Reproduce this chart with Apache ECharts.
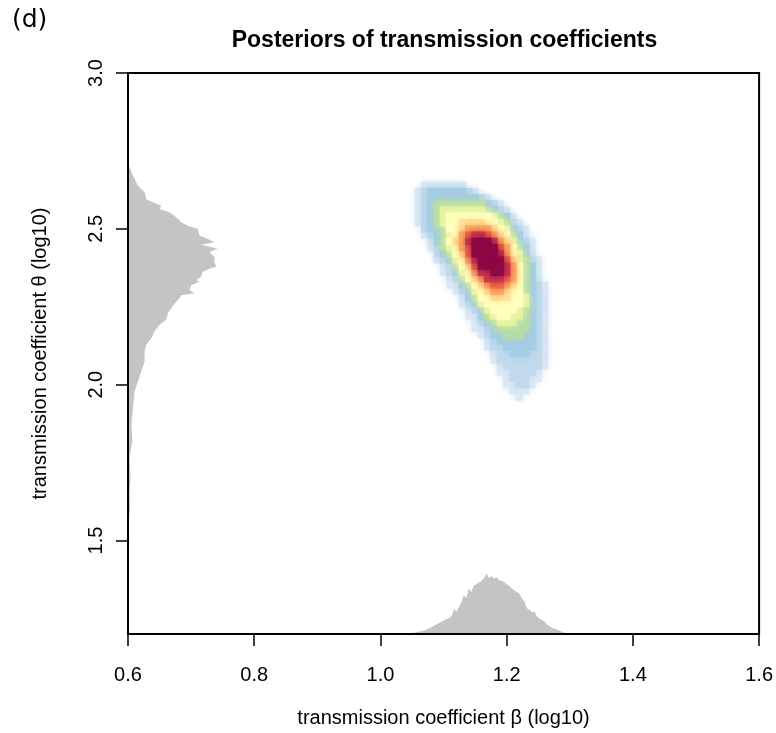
<!DOCTYPE html>
<html><head><meta charset="utf-8">
<script src="https://cdn.jsdelivr.net/npm/echarts@6/dist/echarts.min.js"></script>
<style>html,body{margin:0;padding:0;background:#fff}#c{width:776px;height:733px}</style>
</head><body><div id="c"></div>
<script>
// ---- data ----
const xTicks = [0.6, 0.8, 1.0, 1.2, 1.4, 1.6];
const yTicks = [1.5, 2.0, 2.5, 3.0];

// 2D posterior density (levels 0..11, hex chars), columns = beta centers, rows = theta centers
const betaCenters = [1.06,1.07,1.08,1.09,1.10,1.11,1.12,1.13,1.14,1.15,1.16,1.17,1.18,1.19,1.20,1.21,1.22,1.23,1.24,1.25,1.26,1.27,1.28];
const thetaCenters = [2.68,2.66,2.64,2.62,2.60,2.58,2.56,2.54,2.52,2.50,2.48,2.46,2.44,2.42,2.40,2.38,2.36,2.34,2.32,2.30,2.28,2.26,2.24,2.22,2.20,2.18,2.16,2.14,2.12,2.10,2.08,2.06,2.04,2.02,2.00,1.98,1.96];
const densityRows = [
"00000000000000000000000",
"00000000000000000000000",
"01111111000000000000000",
"12333333210000000000000",
"12333333332100000000000",
"12344444444321000000000",
"12345555555432100000000",
"12345666666654310000000",
"12345667777665421000000",
"02334667888876532100000",
"012345689aa987643100000",
"00134678abbba8753210000",
"001245689bbbb9864310000",
"000234679bbbba865310000",
"000123568abbbb975421000",
"0000124679bbbba86431000",
"0000123568aabba86431000",
"00000124678aaa986431000",
"00000113467899876432100",
"00000012356788766432100",
"00000001346677766532100",
"00000001235666666532100",
"00000000123566665432100",
"00000000113456655432100",
"00000000012345554432100",
"00000000011234444432100",
"00000000001233444332100",
"00000000000123333332100",
"00000000000122333332100",
"00000000000012233322100",
"00000000000012222222100",
"00000000000001222222100",
"00000000000001122221000",
"00000000000000122211000",
"00000000000000112210000",
"00000000000000011100000",
"00000000000000001000000"
];

// marginal of beta (bottom)
const betaHistX = [1.000,1.030,1.038,1.046,1.053,1.061,1.069,1.077,1.085,1.093,1.101,1.109,1.113,1.117,1.120,1.125,1.129,1.132,1.136,1.140,1.144,1.148,1.152,1.156,1.160,1.164,1.168,1.172,1.176,1.180,1.184,1.188,1.192,1.196,1.200,1.204,1.208,1.212,1.216,1.220,1.224,1.228,1.232,1.236,1.240,1.244,1.248,1.252,1.256,1.260,1.264,1.268,1.272,1.276,1.282,1.290,1.298,1.306,1.314,1.325,1.400];
const betaHistY = [1.2000,1.2005,1.2012,1.2030,1.2040,1.2075,1.2115,1.2180,1.2265,1.2350,1.2440,1.2510,1.2580,1.2830,1.2700,1.2880,1.3050,1.3250,1.3150,1.3460,1.3350,1.3560,1.3600,1.3650,1.3700,1.3800,1.3940,1.3800,1.3850,1.3780,1.3820,1.3730,1.3700,1.3680,1.3600,1.3550,1.3470,1.3400,1.3350,1.3300,1.3150,1.3050,1.2830,1.2780,1.2700,1.2720,1.2560,1.2500,1.2440,1.2400,1.2300,1.2260,1.2190,1.2170,1.2130,1.2050,1.2025,1.2010,1.2005,1.2002,1.2000];

// marginal of theta (left)
const thetaHistY = [1.45,1.50,1.55,1.60,1.65,1.70,1.767,1.820,1.873,1.926,1.980,2.011,2.043,2.075,2.107,2.128,2.149,2.171,2.192,2.208,2.229,2.245,2.266,2.277,2.287,2.293,2.303,2.319,2.330,2.335,2.346,2.362,2.372,2.378,2.394,2.410,2.426,2.436,2.449,2.457,2.468,2.479,2.500,2.510,2.521,2.537,2.553,2.564,2.574,2.585,2.595,2.617,2.638,2.670,2.702,2.720];
const thetaHistX = [0.6000,0.6020,0.6010,0.6030,0.6025,0.6040,0.6026,0.6068,0.6053,0.6079,0.6105,0.6158,0.6211,0.6263,0.6263,0.6290,0.6369,0.6421,0.6500,0.6606,0.6632,0.6685,0.6764,0.6816,0.6843,0.7053,0.6974,0.7000,0.7132,0.7080,0.7158,0.7185,0.7290,0.7395,0.7369,0.7369,0.7290,0.7422,0.7158,0.7369,0.7264,0.7132,0.7106,0.6948,0.6843,0.6764,0.6658,0.6500,0.6527,0.6395,0.6290,0.6263,0.6158,0.6079,0.6016,0.6000];

// ---- build ----
const FONT = 'Liberation Sans, Arial, Helvetica, sans-serif';
const palette = ['#ffffff','#dce9f5','#c2daee','#a6cde5','#b4dca9','#e3f29f','#ffffbf','#fee39a','#fdb064','#f06c48','#cf3a4e','#8e0a47'];
const cellW = betaCenters[1] - betaCenters[0];
const cellH = thetaCenters[0] - thetaCenters[1];
const heatData = [];
densityRows.forEach((row, j) => {
  for (let i = 0; i < row.length; i++) {
    const lv = parseInt(row[i], 16);
    if (lv > 0) heatData.push([betaCenters[i], thetaCenters[j], lv]);
  }
});
// draw low levels first so higher levels sit on top
heatData.sort((a, b) => a[2] - b[2]);

const yMin = 1.2, yMax = 3.0, xMin = 0.6, xMax = 1.6;
const GRAY = '#c4c4c4';

const chart = echarts.init(document.getElementById('c'), null, {renderer: 'canvas'});
chart.setOption({
  animation: false,
  backgroundColor: '#ffffff',
  grid: {left: 128, right: 15, top: 73, bottom: 95, show: true, borderColor: '#000', borderWidth: 2, backgroundColor: 'transparent'},
  xAxis: {
    type: 'value', min: xMin, max: xMax, z: 5,
    axisLine: {show: true, onZero: false, lineStyle: {color: '#000', width: 2}},
    axisTick: {show: true, length: 12, customValues: xTicks, lineStyle: {color: '#000', width: 1.5}},
    axisLabel: {customValues: xTicks, formatter: v => v.toFixed(1), fontSize: 20, color: '#000', margin: 31, fontFamily: FONT},
    splitLine: {show: false},
    name: 'transmission coefficient \u03b2 (log10)', nameLocation: 'middle', nameGap: 74,
    nameTextStyle: {fontSize: 20, color: '#000', fontFamily: FONT}
  },
  yAxis: {
    type: 'value', min: yMin, max: yMax, z: 5,
    axisLine: {show: true, onZero: false, lineStyle: {color: '#000', width: 2}},
    axisTick: {show: true, length: 12, customValues: yTicks, lineStyle: {color: '#000', width: 1.5}},
    axisLabel: {customValues: yTicks, formatter: v => v.toFixed(1), fontSize: 20, color: '#000', margin: 22, rotate: 90, fontFamily: FONT},
    splitLine: {show: false},
    name: 'transmission coefficient \u03b8 (log10)', nameLocation: 'middle', nameGap: 78,
    nameTextStyle: {fontSize: 20, color: '#000', fontFamily: FONT}
  },
  graphic: [
    {type: 'text', left: 12, top: 8, style: {text: '(d)', font: '25px "DejaVu Sans", sans-serif', fill: '#000'}},
    {type: 'text', x: 444.5, y: 41, style: {text: 'Posteriors of transmission coefficients', font: 'bold 23px ' + FONT, fill: '#000', align: 'center', verticalAlign: 'middle'}}
  ],
  series: [
    {
      type: 'custom', coordinateSystem: 'cartesian2d', silent: true, clip: true, z: 2,
      data: heatData, encode: {x: 0, y: 1},
      renderItem: function (params, api) {
        const x = api.value(0), y = api.value(1), lv = api.value(2);
        const p1 = api.coord([x - cellW / 2, y + cellH / 2]);
        const p2 = api.coord([x + cellW / 2, y - cellH / 2]);
        return {type: 'rect', shape: {x: p1[0] - 0.5, y: p1[1] - 0.5, width: p2[0] - p1[0] + 1, height: p2[1] - p1[1] + 1},
          style: {fill: palette[lv], shadowBlur: 7, shadowColor: palette[lv]}};
      }
    },
    {
      type: 'custom', coordinateSystem: 'cartesian2d', silent: true, clip: true, z: 3,
      data: [[betaHistX[0], yMin]], encode: {x: 0, y: 1},
      renderItem: function (params, api) {
        const pts = [api.coord([betaHistX[0], yMin])];
        for (let k = 0; k < betaHistX.length; k++) pts.push(api.coord([betaHistX[k], betaHistY[k]]));
        pts.push(api.coord([betaHistX[betaHistX.length - 1], yMin]));
        return {type: 'polygon', shape: {points: pts}, style: {fill: GRAY}};
      }
    },
    {
      type: 'custom', coordinateSystem: 'cartesian2d', silent: true, clip: true, z: 3,
      data: [[xMin, thetaHistY[0]]], encode: {x: 0, y: 1},
      renderItem: function (params, api) {
        const pts = [api.coord([xMin, thetaHistY[0]])];
        for (let k = 0; k < thetaHistY.length; k++) pts.push(api.coord([thetaHistX[k], thetaHistY[k]]));
        pts.push(api.coord([xMin, thetaHistY[thetaHistY.length - 1]]));
        return {type: 'polygon', shape: {points: pts}, style: {fill: GRAY}};
      }
    }
  ]
});
</script>
</body></html>
